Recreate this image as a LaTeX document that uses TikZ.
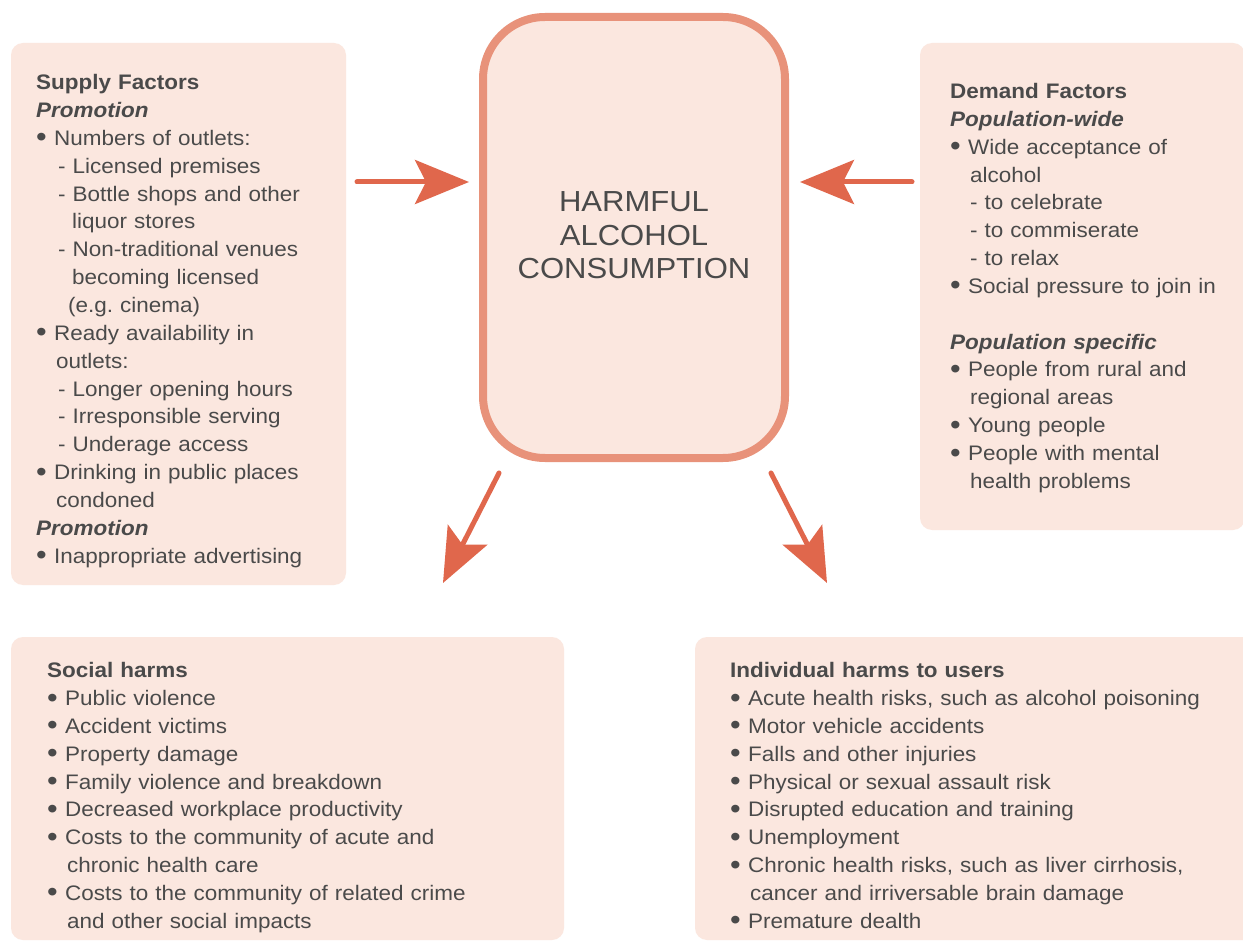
\documentclass[tikz,border=0pt]{standalone}
\usepackage{fontspec}
\setmainfont[FakeStretch=1.07]{Liberation Sans}
\usetikzlibrary{arrows.meta}

\definecolor{panelfill}{HTML}{FBE7DF}
\definecolor{coreline}{HTML}{E8927A}
\definecolor{flowred}{HTML}{E0674C}
\definecolor{ink}{HTML}{4A4A4A}

% bullet with a fixed hanging width, and a plain indent
\newcommand\bl{\makebox[18pt][l]{\raisebox{-0.07em}{\scalebox{1.35}{•}}}}
\newcommand\ind[1]{\hspace*{#1}}
\newcommand\firstline{\rule{0pt}{20pt}}

\begin{document}
\begin{tikzpicture}[x=1pt,y=-1pt,
  panel/.style={fill=panelfill, draw=none, rounded corners=12pt,
    anchor=north west, inner sep=0pt, outer sep=0pt},
  core/.style={fill=panelfill, draw=coreline, line width=8pt,
    rounded corners=62pt, inner sep=0pt},
  list/.style={anchor=north west, inner sep=0pt, text=ink, align=left,
    text width=#1, font=\fontsize{21}{27.85}\selectfont},
  flow/.style={draw=flowred, line width=5pt, line cap=round,
    -{Stealth[length=54pt, width=44pt, inset=11pt]}},
]
\useasboundingbox (0,0) rectangle (1243,941);
\clip (0,0) rectangle (1243,941);
\fill[white] (0,0) rectangle (1243,941);

% panels
\node[panel, minimum width=335pt, minimum height=542pt] (supplybox) at (11,43) {};
\node[panel, minimum width=325pt, minimum height=487pt] (demandbox) at (920,43) {};
\node[panel, minimum width=553pt, minimum height=303pt] (socialbox) at (11,637) {};
\node[panel, minimum width=560pt, minimum height=303pt] (userbox) at (695,637) {};

% central box
\node[core, minimum width=302pt, minimum height=441pt] (core) at (634,237.5) {};
\node[text=ink, align=center, text width=300pt, inner sep=0pt,
  font=\fontsize{29}{33.5}\selectfont] (title) at (634,235.5)
  {HARMFUL\\ALCOHOL\\CONSUMPTION};

% supply factors
\node[list=310pt] (supply) at (36,69.5) {%
\firstline\textbf{Supply Factors}\\
\textbf{\textit{Promotion}}\\
\bl Numbers of outlets:\\
\ind{22pt}- Licensed premises\\
\ind{22pt}- Bottle shops and other\\
\ind{36pt}liquor stores\\
\ind{22pt}- Non-traditional venues\\
\ind{36pt}becoming licensed\\
\ind{32pt}(e.g.\ cinema)\\
\bl Ready availability in\\
\ind{20pt}outlets:\\
\ind{22pt}- Longer opening hours\\
\ind{22pt}- Irresponsible serving\\
\ind{22pt}- Underage access\\
\bl Drinking in public places\\
\ind{20pt}condoned\\
\textbf{\textit{Promotion}}\\
\bl Inappropriate advertising};

% demand factors
\node[list=290pt] (demand) at (950,78.3) {%
\firstline\textbf{Demand Factors}\\
\textbf{\textit{Population-wide}}\\
\bl Wide acceptance of\\
\ind{20pt}alcohol\\
\ind{20pt}- to celebrate\\
\ind{20pt}- to commiserate\\
\ind{20pt}- to relax\\
\bl Social pressure to join in\\[27.85pt]
\textbf{\textit{Population specific}}\\
\bl People from rural and\\
\ind{20pt}regional areas\\
\bl Young people\\
\bl People with mental\\
\ind{20pt}health problems};

% social harms
\node[list=510pt] (social) at (47,657.5) {%
\firstline\textbf{Social harms}\\
\bl Public violence\\
\bl Accident victims\\
\bl Property damage\\
\bl Family violence and breakdown\\
\bl Decreased workplace productivity\\
\bl Costs to the community of acute and\\
\ind{20pt}chronic health care\\
\bl Costs to the community of related crime\\
\ind{20pt}and other social impacts};

% individual harms
\node[list=510pt] (users) at (730,657.5) {%
\firstline\textbf{Individual harms to users}\\
\bl Acute health risks, such as alcohol poisoning\\
\bl Motor vehicle accidents\\
\bl Falls and other injuries\\
\bl Physical or sexual assault risk\\
\bl Disrupted education and training\\
\bl Unemployment\\
\bl Chronic health risks, such as liver cirrhosis,\\
\ind{20pt}cancer and irriversable brain damage\\
\bl Premature dealth};

% arrows
\coordinate (inL0) at (357,182);  \coordinate (inL1) at (469,182);
\coordinate (inR0) at (912,182);  \coordinate (inR1) at (800,182);
\coordinate (outL0) at (499,473); \coordinate (outL1) at (443,583);
\coordinate (outR0) at (771,473); \coordinate (outR1) at (827,583);
\draw[flow] (inL0) -- (inL1);
\draw[flow] (inR0) -- (inR1);
\draw[flow] (outL0) -- (outL1);
\draw[flow] (outR0) -- (outR1);
\end{tikzpicture}
\end{document}
